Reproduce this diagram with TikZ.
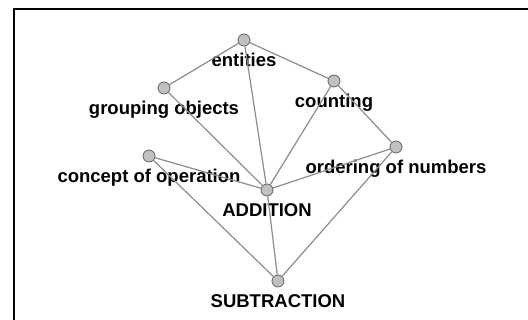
\documentclass[tikz,border=0pt]{standalone}
\usepackage{fontspec}
\setmainfont{Liberation Sans}
\usepackage{tikz}
\definecolor{vertexfill}{RGB}{192,192,192}
\definecolor{vertexline}{RGB}{100,100,100}
\definecolor{edgegray}{RGB}{140,140,140}

\begin{document}
\begin{tikzpicture}[x=1pt,y=1pt,font=\bfseries\fontsize{18.5}{20}\selectfont,
  vertex/.style={circle,draw=vertexline,fill=vertexfill,line width=0.8pt,
    minimum size=12pt,inner sep=0pt},
  every label/.style={inner sep=0pt,text height=13.5pt,text depth=4pt,black},
  label distance=6pt,
  link/.style={draw=edgegray,line width=1.2pt}]
  \useasboundingbox (0,0) rectangle (528,320);
  % ---------------- frame, cut off on the right and at the bottom
  \draw[line width=2pt] (13.5,-5) -- (13.5,310.5) -- (535,310.5);
  % ---------------- concepts
  \node[vertex,label=below:entities]             (ent) at (244,280) {};
  \node[vertex,label=below:grouping objects]     (grp) at (164,232) {};
  \node[vertex,label=below:counting]             (cnt) at (334,239) {};
  \node[vertex,label=below:ordering of numbers]  (ord) at (396,173) {};
  \node[vertex,label=below:concept of operation] (con) at (149,164) {};
  \node[vertex,label=below:ADDITION]             (add) at (267,130) {};
  \node[vertex,label=below:SUBTRACTION]          (sub) at (278,39) {};
  % ---------------- links
  \path[link] (ent) -- (grp) (ent) -- (cnt) (ent) -- (add)
              (grp) -- (add) (cnt) -- (add) (cnt) -- (ord)
              (ord) -- (add) (ord) -- (sub) (con) -- (add)
              (con) -- (sub) (add) -- (sub);
\end{tikzpicture}
\end{document}
